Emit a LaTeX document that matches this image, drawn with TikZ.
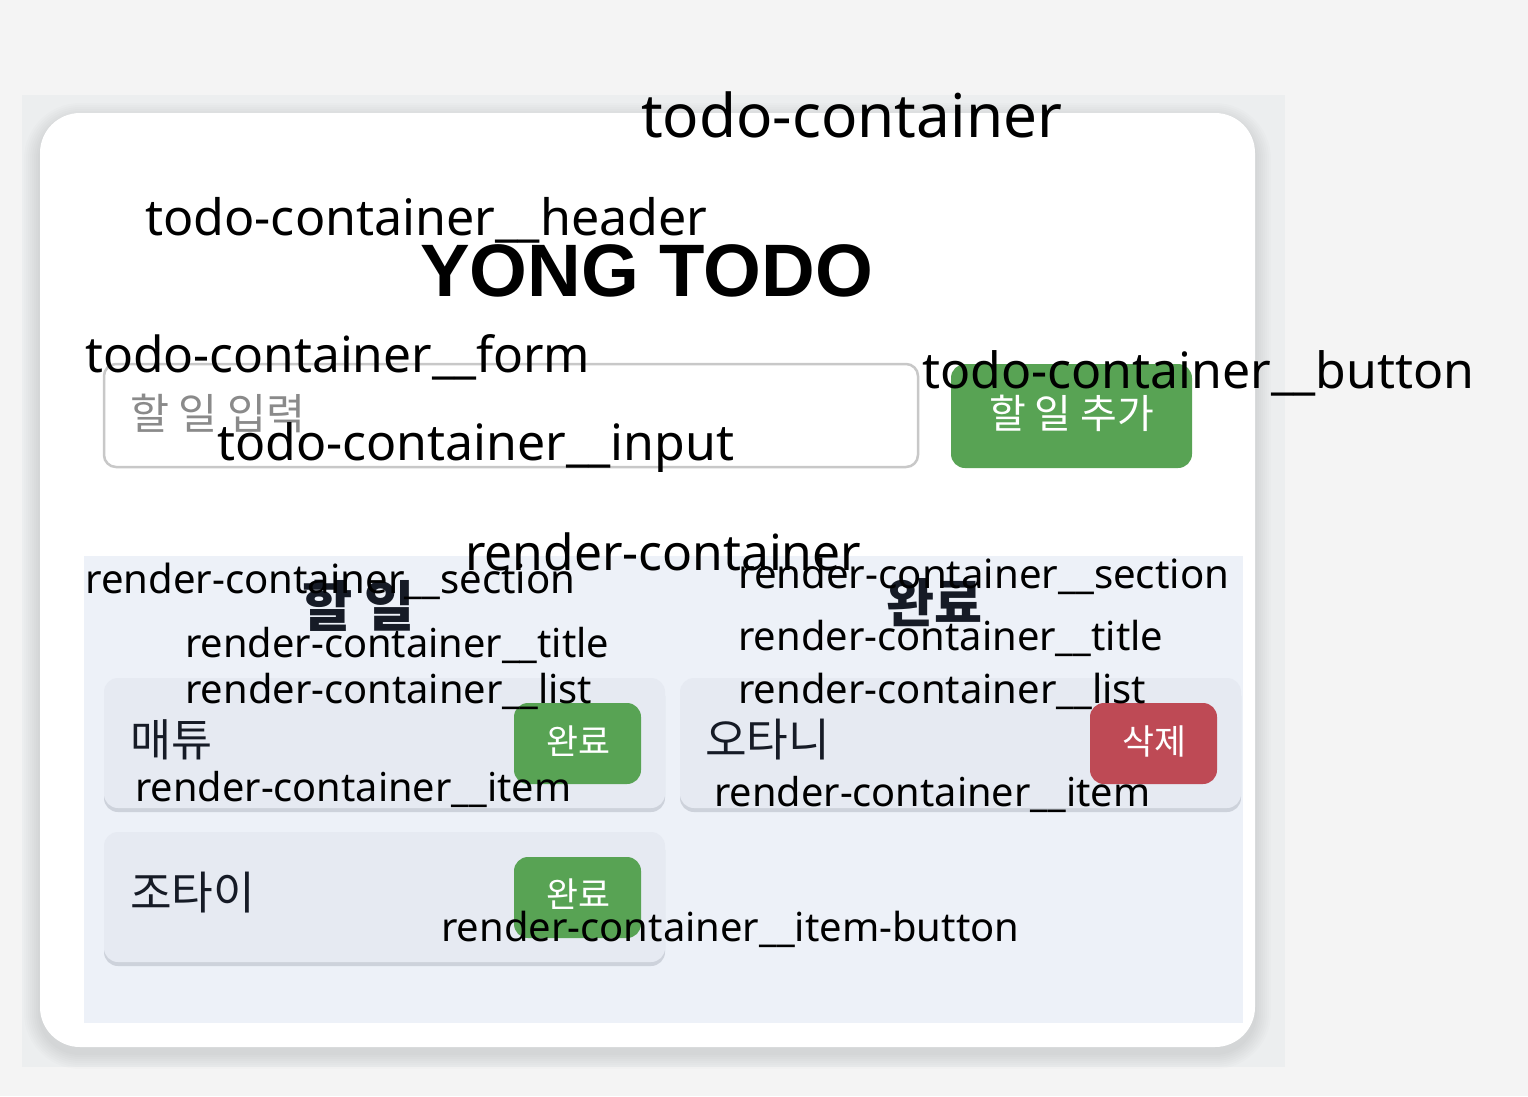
\documentclass[tikz,border=0pt]{standalone}
\usepackage{fontspec}
\usepackage{graphicx}
\setmainfont{Noto Sans}
\newfontfamily\krfont{Noto Sans CJK KR}
\newfontfamily\titlefont{Liberation Sans}
\definecolor{pagebg}{HTML}{F4F4F4}
\definecolor{outerbg}{HTML}{ECEEEF}
\definecolor{rcbg}{HTML}{EDF1F8}
\definecolor{itembg}{HTML}{E6EAF2}
\definecolor{itemshadow}{HTML}{CDD2DB}
\definecolor{btngreen}{HTML}{58A354}
\definecolor{btnred}{HTML}{BE4A55}
\definecolor{inputborder}{HTML}{C8C8C8}
\definecolor{placeholder}{HTML}{8A8A8A}
\definecolor{darktext}{HTML}{161B26}
\newcommand{\fitw}[2]{\resizebox{#1pt}{!}{#2}}
\begin{document}
\begin{tikzpicture}[x=1pt,y=-1pt,
  lab/.style={anchor=base west,inner sep=0pt,font=\fontsize{40}{48}\selectfont,text=black},
  kr/.style={anchor=west,inner sep=0pt,font=\krfont\fontsize{40}{48}\selectfont},
  krbold/.style={anchor=west,inner sep=0pt,font=\krfont\bfseries\fontsize{40}{48}\selectfont,text=darktext},
  btn/.style={rounded corners=14pt}]
\useasboundingbox (0,0) rectangle (1528,1096);
\fill[pagebg] (0,0) rectangle (1528,1096);
\fill[outerbg] (22,95) rectangle (1285,1067);
% soft card shadow
\foreach \i in {1,...,8}{
  \fill[black,opacity=0.012,rounded corners={40pt+\i*2pt}]
    (40-\i*2,113-\i*2+6) rectangle (1255+\i*2,1047+\i*2+6);
}
\fill[white,rounded corners=40pt] (40,113) rectangle (1255,1047);
% form
\draw[draw=inputborder,line width=2.5pt,fill=white,rounded corners=12pt] (104,364) rectangle (918,467);
\fill[btngreen,btn] (951,364) rectangle (1192,468);
% render container
\fill[rcbg] (84,556) rectangle (1243,1023);
% items
\fill[itemshadow,btn] (104,682) rectangle (665,812);
\fill[itembg,btn] (104,678) rectangle (665,808);
\fill[itemshadow,btn] (104,836) rectangle (665,966);
\fill[itembg,btn] (104,832) rectangle (665,962);
\fill[itemshadow,btn] (680,682) rectangle (1241,812);
\fill[itembg,btn] (680,678) rectangle (1241,808);
% item buttons
\fill[btngreen,btn] (514,703) rectangle (641,784);
\fill[btngreen,btn] (514,857) rectangle (641,938);
\fill[btnred,btn] (1090,703) rectangle (1217,784);

% content texts
\node[anchor=base west,inner sep=0pt,font=\titlefont\bfseries\fontsize{80}{90}\selectfont] (title) at (420,296) {\fitw{453}{YONG TODO}};
\node[kr,text=placeholder] (ph) at (130,413) {\fitw{175}{할 일 입력}};
\node[kr,text=white] (addtxt) at (989,413) {\fitw{165}{할 일 추가}};
\node[krbold] (t1) at (302,606) {\fitw{113}{할 일}};
\node[krbold] (t2) at (886,603) {\fitw{96}{완료}};
\node[kr,text=darktext] (i1) at (130,740) {\fitw{82}{매튜}};
\node[kr,text=darktext] (i2) at (130,893) {\fitw{125}{조타이}};
\node[kr,text=darktext] (i3) at (705,740) {\fitw{125}{오타니}};
\node[kr,text=white] (b1) at (546,741) {\fitw{64}{완료}};
\node[kr,text=white] (b2) at (546,894) {\fitw{64}{완료}};
\node[kr,text=white] (b3) at (1122,741) {\fitw{64}{삭제}};

% class labels
\node[lab] (l1) at (641,137) {\fitw{421}{todo-container}};
\node[lab] (l2) at (145,235) {\fitw{562}{todo-container\_\_header}};
\node[lab] (l3) at (85,372) {\fitw{505}{todo-container\_\_form}};
\node[lab] (l4) at (217,460) {\fitw{517}{todo-container\_\_input}};
\node[lab] (l5) at (922,388) {\fitw{552}{todo-container\_\_button}};
\node[lab] (l6) at (465,570) {\fitw{396}{render-container}};
\node[lab] (l7) at (85,593) {\fitw{490}{render-container\_\_section}};
\node[lab] (l8) at (185,657) {\fitw{424}{render-container\_\_title}};
\node[lab] (l9) at (185,703) {\fitw{407}{render-container\_\_list}};
\node[lab] (l10) at (135,801) {\fitw{436}{render-container\_\_item}};
\node[lab] (l11) at (738,588) {\fitw{491}{render-container\_\_section}};
\node[lab] (l12) at (738,650) {\fitw{425}{render-container\_\_title}};
\node[lab] (l13) at (738,703) {\fitw{408}{render-container\_\_list}};
\node[lab] (l14) at (714,806) {\fitw{436}{render-container\_\_item}};
\node[lab] (l15) at (441,941) {\fitw{578}{render-container\_\_item-button}};
\end{tikzpicture}
\end{document}
